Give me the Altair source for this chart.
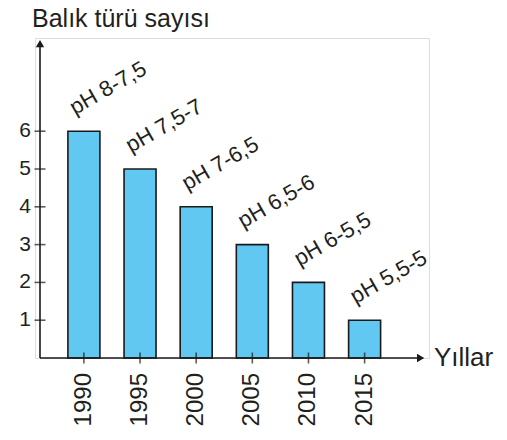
import altair as alt
import pandas as pd

years = [1990, 1995, 2000, 2005, 2010, 2015]
counts = [6, 5, 4, 3, 2, 1]
ph_labels = ["pH 8-7,5", "pH 7,5-7", "pH 7-6,5", "pH 6,5-6", "pH 6-5,5", "pH 5,5-5"]
y_ticks = [1, 2, 3, 4, 5, 6]
y_title = "Balık türü sayısı"
x_title = "Yıllar"

X_MIN, X_MAX = 1986.09, 2020.29
Y_MIN, Y_MAX = 0, 8.466

FONT = "Liberation Sans"
TXT = "#231f20"
LINE = "#1a1a1a"

df = pd.DataFrame({"year": years, "count": counts, "ph": ph_labels,
                   "ylab": [str(y) for y in years]})
ticks_df = pd.DataFrame({"t": y_ticks, "lab": [str(t) for t in y_ticks]})
one = pd.DataFrame({"k": [0]})

xs = alt.Scale(domain=[X_MIN, X_MAX], nice=False, zero=False)
ys = alt.Scale(domain=[Y_MIN, Y_MAX], nice=False)

base = alt.Chart(df)
single = alt.Chart(one)

bars = base.mark_bar(size=32, fill="#60c8f1", stroke=LINE, strokeWidth=1.6).encode(
    x=alt.X("year:Q", scale=xs, axis=None),
    y=alt.Y("count:Q", scale=ys, axis=None),
)

x_line = single.mark_rule(color=LINE, strokeWidth=1.6).encode(
    x=alt.datum(X_MIN, scale=xs), x2=alt.datum(X_MAX - 0.25),
    y=alt.datum(0, scale=ys),
)
y_line = single.mark_rule(color=LINE, strokeWidth=1.6).encode(
    x=alt.datum(X_MIN, scale=xs),
    y=alt.datum(0, scale=ys), y2=alt.datum(Y_MAX - 0.15),
)
arrow_up = single.mark_point(shape="triangle-up", filled=True, color=LINE, size=70, opacity=1).encode(
    x=alt.datum(X_MIN, scale=xs), y=alt.datum(Y_MAX - 0.15, scale=ys),
)
arrow_right = single.mark_point(shape="triangle-right", filled=True, color=LINE, size=70, opacity=1).encode(
    x=alt.datum(X_MAX - 0.3, scale=xs), y=alt.datum(0, scale=ys),
)

x_ticks = base.mark_tick(orient="vertical", size=11, thickness=1.6, color=LINE).encode(
    x=alt.X("year:Q", scale=xs), y=alt.datum(0, scale=ys),
)
y_tick_marks = alt.Chart(ticks_df).mark_tick(orient="horizontal", size=11, thickness=1.6, color=LINE).encode(
    y=alt.Y("t:Q", scale=ys), x=alt.datum(X_MIN, scale=xs),
)
y_tick_labels = alt.Chart(ticks_df).mark_text(align="right", baseline="middle", dx=-9,
                                               font=FONT, fontSize=21, color=TXT).encode(
    y=alt.Y("t:Q", scale=ys), x=alt.datum(X_MIN, scale=xs), text="lab:N",
)

year_labels = base.mark_text(angle=270, align="right", baseline="middle", dx=-15,
                             font=FONT, fontSize=24, color=TXT).encode(
    x=alt.X("year:Q", scale=xs), y=alt.datum(0, scale=ys), text="ylab:N",
)

ph_text = base.mark_text(angle=330, align="left", baseline="alphabetic", xOffset=-9, yOffset=-16,
                         font=FONT, fontSize=22, color=TXT).encode(
    x=alt.X("year:Q", scale=xs), y=alt.Y("count:Q", scale=ys), text="ph:N",
)

title_y = single.mark_text(align="left", baseline="alphabetic", dx=-8, dy=-11,
                           font=FONT, fontSize=25, color=TXT).encode(
    x=alt.datum(X_MIN, scale=xs), y=alt.datum(Y_MAX, scale=ys), text=alt.value(y_title),
)
title_x = single.mark_text(align="left", baseline="middle", dx=10,
                           font=FONT, fontSize=26, color=TXT).encode(
    x=alt.datum(X_MAX, scale=xs), y=alt.datum(0, scale=ys), text=alt.value(x_title),
)

chart = alt.layer(
    bars, x_line, y_line, arrow_up, arrow_right, x_ticks, y_tick_marks,
    y_tick_labels, year_labels, ph_text, title_y, title_x,
).properties(
    width=394, height=320,
    autosize=alt.AutoSizeParams(type="none"),
    padding={"left": 27, "top": 30, "right": 70, "bottom": 74},
).configure_view(stroke=None).configure(background="white")

chart.save("out.html", embed_options={"renderer": "svg", "actions": False})
